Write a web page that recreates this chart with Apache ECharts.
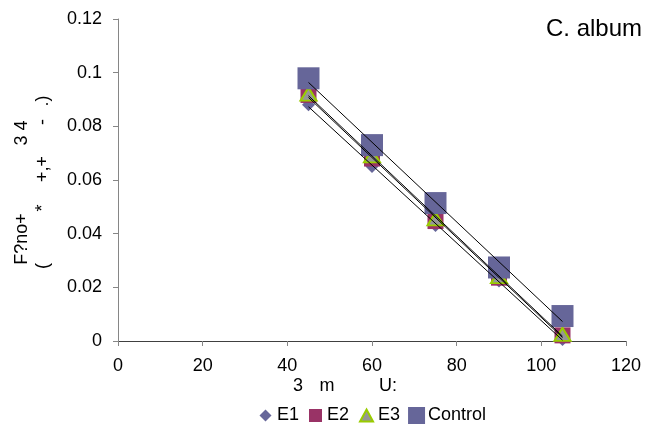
<!DOCTYPE html>
<html>
<head>
<meta charset="utf-8">
<script src="https://cdn.jsdelivr.net/npm/echarts@6/dist/echarts.min.js"></script>
<style>html,body{margin:0;padding:0;background:#fff}#c{width:655px;height:430px}</style>
</head>
<body>
<div id="c"></div>
<script>
const xValues = [45, 60, 75, 90, 105];
const e1 = [0.088, 0.065, 0.043, 0.0224, 0.0006];
const e2 = [0.0917, 0.068, 0.0447, 0.0236, 0.0021];
const e3 = [0.092, 0.069, 0.0455, 0.024, 0.0025];
const control = [0.0979, 0.073, 0.0514, 0.0274, 0.0093];
const seriesNames = ['E1', 'E2', 'E3', 'Control'];
const xTicks = [0, 20, 40, 60, 80, 100, 120];
const yTicks = [0, 0.02, 0.04, 0.06, 0.08, 0.1, 0.12];

const FONT = '"Liberation Sans", Arial, sans-serif';

function pairs(ys) { return xValues.map((x, i) => [x, ys[i]]); }
function trend(ys) {
  const n = xValues.length;
  const mx = xValues.reduce((a, b) => a + b, 0) / n;
  const my = ys.reduce((a, b) => a + b, 0) / n;
  let sxy = 0, sxx = 0;
  for (let i = 0; i < n; i++) { sxy += (xValues[i] - mx) * (ys[i] - my); sxx += (xValues[i] - mx) ** 2; }
  const b = sxy / sxx, a = my - b * mx;
  const x0 = xValues[0], x1 = xValues[n - 1];
  return [[x0, a + b * x0], [x1, a + b * x1]];
}

const chart = echarts.init(document.getElementById('c'), null, { renderer: 'canvas' });

const markerSeries = [
  { name: 'E1', data: pairs(e1), symbol: 'diamond', symbolSize: 13, itemStyle: { color: '#666699', opacity: 1 } },
  { name: 'E2', data: pairs(e2), symbol: 'rect', symbolSize: 16, itemStyle: { color: '#993366', opacity: 1 } },
  { name: 'E3', data: pairs(e3), symbol: 'triangle', symbolSize: [16, 13], itemStyle: { color: '#969696', borderColor: '#99CC00', borderWidth: 2, opacity: 1 } },
  { name: 'Control', data: pairs(control), symbol: 'rect', symbolSize: 22, itemStyle: { color: '#666699', opacity: 1 } }
].map((s, i) => Object.assign({ type: 'scatter', z: 2 + i, animation: false }, s));

const trendSeries = [e1, e2, e3, control].map(ys => ({
  type: 'line', data: trend(ys), showSymbol: false, symbol: 'none', silent: true, z: 10,
  lineStyle: { color: '#000', width: 1 }, animation: false, legendHoverLink: false
}));

const rot = Math.PI / 2;
function t(text, x, y, size, align, rotation) {
  return { type: 'text', x: x, y: y, rotation: rotation || 0, silent: true,
    style: { text: text, font: size + 'px ' + FONT, fill: '#000', align: align || 'center', verticalAlign: 'middle' } };
}

chart.setOption({
  backgroundColor: '#fff',
  animation: false,
  grid: { left: 118, right: 29, top: 19, bottom: 89 },
  xAxis: {
    type: 'value', min: 0, max: 120, interval: 20,
    axisLine: { show: true, lineStyle: { color: '#404040', width: 1 } },
    axisTick: { show: true, length: 5, lineStyle: { color: '#868686' } },
    axisLabel: { color: '#000', fontSize: 18, fontFamily: FONT, margin: 16 },
    splitLine: { show: false }
  },
  yAxis: {
    type: 'value', min: 0, max: 0.12, interval: 0.02,
    axisLine: { show: true, lineStyle: { color: '#868686', width: 1 } },
    axisTick: { show: true, length: 5, lineStyle: { color: '#868686' } },
    axisLabel: { color: '#000', fontSize: 18, fontFamily: FONT, margin: 16,
      formatter: v => yTicks.includes(+v.toFixed(2)) ? String(+v.toFixed(2)) : '' },
    splitLine: { show: false }
  },
  legend: {
    left: 252, top: 401, itemWidth: 17, itemHeight: 17, itemGap: 8,
    textStyle: { color: '#000', fontSize: 18, fontFamily: FONT, padding: [0, 0, 0, -2] },
    data: [
      { name: 'E1', icon: 'path://M0,0M17,17M8.5,2.5L14.5,8.5L8.5,14.5L2.5,8.5Z' },
      { name: 'E2', icon: 'path://M0,0M17,17M2,2L15,2L15,15L2,15Z' },
      { name: 'E3', icon: 'path://M0,0M17,17M8.5,2.5L15,14.5L2,14.5Z' },
      { name: 'Control', icon: 'path://M0,0L17,0L17,17L0,17Z' }
    ]
  },
  graphic: [
    t('C. album', 642, 29, 24, 'right'),
    t('3', 298, 386, 18),
    t('m', 327, 386, 18),
    t('U:', 388, 386, 18),
    t('F?no+', 22, 239, 18, 'center', rot),
    t('3 4', 22, 133, 18, 'center', rot),
    t('(', 43, 266, 18, 'center', rot),
    t('*', 43, 208, 18, 'center', rot),
    t('+,+', 43, 169, 18, 'center', rot),
    t('-', 43, 122, 18, 'center', rot),
    t('.)', 43, 101, 18, 'center', rot)
  ],
  series: markerSeries.concat(trendSeries)
});
</script>
</body>
</html>
